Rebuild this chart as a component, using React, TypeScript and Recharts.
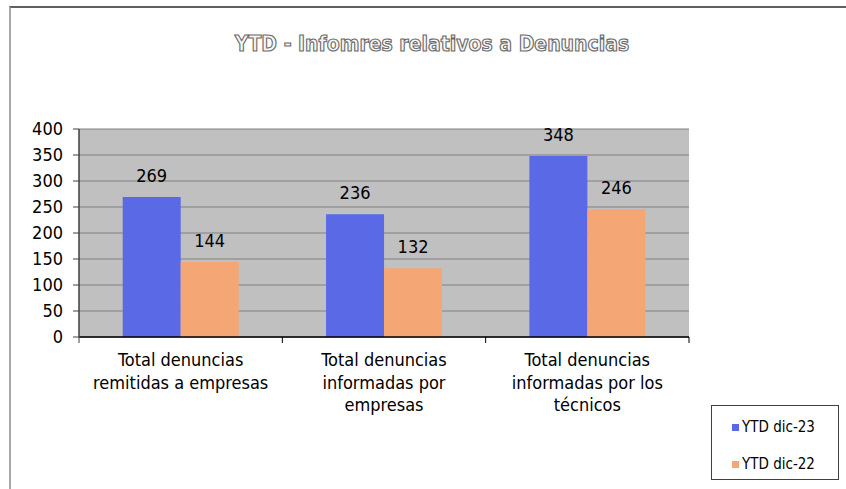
import { Bar, BarChart, CartesianGrid, LabelList, Legend, XAxis, YAxis } from "recharts";

const CATEGORIES = [
  "Total denuncias\nremitidas a empresas",
  "Total denuncias\ninformadas por\nempresas",
  "Total denuncias\ninformadas por los\ntécnicos",
];
const YTD_23 = [269, 236, 348];
const YTD_22 = [144, 132, 246];
const Y_TICKS = [0, 50, 100, 150, 200, 250, 300, 350, 400];

const SERIES = [
  { key: "d23", name: "YTD dic-23", color: "#5a6ae6" },
  { key: "d22", name: "YTD dic-22", color: "#f4a674" },
];

const data = CATEGORIES.map((name, i) => ({ name, d23: YTD_23[i], d22: YTD_22[i] }));

const FONT = "'DejaVu Sans Condensed', 'DejaVu Sans', sans-serif";

// category labels, plus the tick marks Excel puts between categories
function CategoryTick({ x, y, width, visibleTicksCount, index, payload }: any) {
  const lines = String(payload.value).split("\n");
  const half = width / visibleTicksCount / 2;
  return (
    <g>
      <line x1={x + half} x2={x + half} y1={y} y2={y + 6} stroke="#000" />
      {index === 0 && <line x1={x - half} x2={x - half} y1={y} y2={y + 6} stroke="#404040" />}
      <text x={x} y={y + 29} textAnchor="middle" fontFamily={FONT} fontSize={18} fill="#000">
        {lines.map((l, i) => (
          <tspan key={i} x={x} dy={i === 0 ? 0 : 22.5}>
            {l}
          </tspan>
        ))}
      </text>
    </g>
  );
}

function LegendBox() {
  return (
    <div
      style={{
        width: 128,
        height: 75,
        border: "1.5px solid #404040",
        boxSizing: "border-box",
        fontFamily: FONT,
        fontSize: 15,
        color: "#000",
        paddingTop: 12,
      }}
    >
      {SERIES.map((s, i) => (
        <div key={s.key} style={{ display: "flex", alignItems: "center", paddingLeft: 20, marginBottom: i === 0 ? 19 : 0 }}>
          <span style={{ width: 7, height: 7, background: s.color, marginRight: 3, display: "inline-block" }} />
          {s.name}
        </div>
      ))}
    </div>
  );
}

export default function App() {
  return (
    <div style={{ position: "absolute", left: 0, top: 0, width: 846, height: 489, background: "#fff" }}>
      <div
        style={{
          position: "absolute",
          left: 9,
          top: 6,
          width: 837,
          height: 483,
          borderTop: "2px solid #606060",
          borderLeft: "2px solid #a8a8a8",
          boxSizing: "border-box",
        }}
      />
      <div style={{ position: "absolute", left: 0, top: 0 }}>
        <BarChart
          width={846}
          height={489}
          data={data}
          margin={{ top: 129, right: 157, bottom: 62, left: 0 }}
          barCategoryGap="21.5%"
          barGap={0}
        >
          <text
            x={432}
            y={51}
            textAnchor="middle"
            fontFamily={FONT}
            fontWeight="bold"
            fontSize={21}
            fill="#f6f6f6"
            stroke="#6a6a6a"
            strokeWidth={1.1}
          >
            YTD - Infomres relativos a Denuncias
          </text>
          <CartesianGrid vertical={false} stroke="#808080" strokeWidth={1.2} fill="#c0c0c0" fillOpacity={1} />
          <XAxis
            dataKey="name"
            height={90}
            tickLine={false}
            tickSize={0}
            tickMargin={0}
            axisLine={{ stroke: "#000", strokeWidth: 1.5 }}
            tick={<CategoryTick />}
            interval={0}
          />
          <YAxis
            domain={[0, 400]}
            ticks={Y_TICKS}
            width={79}
            tickSize={6}
            tickMargin={10}
            axisLine={{ stroke: "#404040", strokeWidth: 1.5 }}
            tickLine={{ stroke: "#404040" }}
            tick={{ fontFamily: FONT, fontSize: 18, fill: "#000" }}
          />
          <YAxis
            yAxisId="right"
            orientation="right"
            domain={[0, 400]}
            width={0}
            tick={false}
            tickLine={false}
            axisLine={{ stroke: "#808080", strokeWidth: 1.5 }}
          />
          <Legend
            layout="horizontal"
            verticalAlign="middle"
            align="center"
            content={<LegendBox />}
            wrapperStyle={{ position: "absolute", left: 711, top: 405, width: 128, height: 75 }}
          />
          {SERIES.map((s) => (
            <Bar key={s.key} dataKey={s.key} name={s.name} fill={s.color} isAnimationActive={false}>
              <LabelList
                dataKey={s.key}
                position="top"
                offset={15}
                fontFamily={FONT}
                fontSize={18}
                fill="#000"
              />
            </Bar>
          ))}
        </BarChart>
      </div>
    </div>
  );
}
